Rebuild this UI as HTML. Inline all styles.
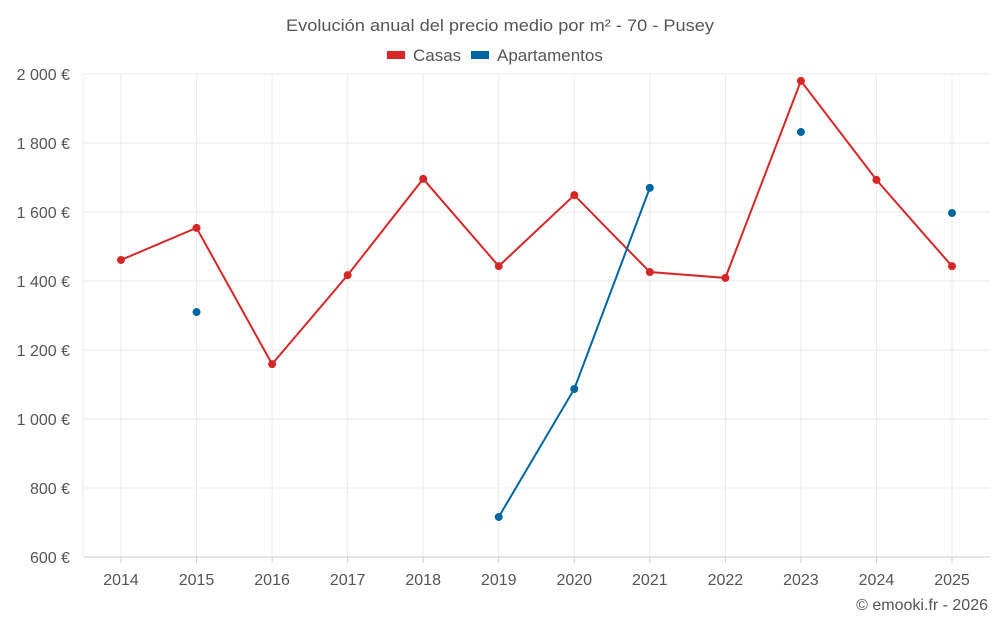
<!DOCTYPE html>
<html><head><meta charset="utf-8"><style>
body{margin:0;background:#fff;font-family:"Liberation Sans",sans-serif}
svg{display:block}
</style></head><body>
<svg id="chart" width="1000" height="625">
<text x="500" y="31" text-anchor="middle" font-size="17" fill="#555" textLength="428" lengthAdjust="spacingAndGlyphs">Evolución anual del precio medio por m² - 70 - Pusey</text>
<g>
<g><rect x="387" y="51" width="18" height="8" fill="#d62728"/><text x="413" y="61" font-size="17" fill="#555">Casas</text></g>
<g><rect x="471" y="51" width="18" height="8" fill="#0066a0"/><text x="497" y="61" font-size="17" fill="#555">Apartamentos</text></g>
</g>
<g id="grid"></g><g id="axes"></g><g id="series"></g>
<text x="988" y="610" text-anchor="end" font-size="16" fill="#555">© emooki.fr - 2026</text>
</svg>
<script>
const years=[2014,2015,2016,2017,2018,2019,2020,2021,2022,2023,2024,2025];
const casas=[1461,1554,1159,1417,1696,1443,1649,1426,1409,1980,1693,1443];
const apartamentos=[null,1310,null,null,null,716,1087,1670,null,1832,null,1597];
const yTicks=[600,800,1000,1200,1400,1600,1800,2000];
const yTickLabels=["600 €","800 €","1 000 €","1 200 €","1 400 €","1 600 €","1 800 €","2 000 €"];
const NS="http://www.w3.org/2000/svg";
const L=83,R=990,T=74,B=557;
const x=i=>121+i*(952-121)/11;
const y=v=>B-(v-600)/(2000-600)*(B-T);
function mk(tag,attrs,parent){const e=document.createElementNS(NS,tag);for(const k in attrs)e.setAttribute(k,attrs[k]);parent.appendChild(e);return e;}
const grid=document.getElementById('grid'),axes=document.getElementById('axes'),series=document.getElementById('series');
yTicks.forEach((t,i)=>{
 const ln=mk('line',{x1:L,x2:R,y1:y(t),y2:y(t),stroke:i==0?'#ccc':'#ebebeb'},grid);
 
 
 const tx=mk('text',{x:70,y:y(t)+6,'text-anchor':'end','font-size':16,fill:'#555'},axes);
 tx.textContent=yTickLabels[i];
 
 
});
mk('line',{x1:L,x2:L,y1:T,y2:B,stroke:'#ebebeb'},grid);
years.forEach((yr,i)=>{
 const ln=mk('line',{x1:x(i),x2:x(i),y1:T,y2:B,stroke:'#ebebeb'},grid);
 
 
 const tk=mk('line',{x1:x(i),x2:x(i),y1:B,y2:B+6,stroke:'#ccc'},axes);
 
 
 const tx=mk('text',{x:x(i),y:585,'text-anchor':'middle','font-size':16,fill:'#555'},axes);
 tx.textContent=yr;
 
 
});
function drawSeries(vals,color,name){
 let d='',pen=false;
 vals.forEach((v,i)=>{if(v==null){pen=false;return;}d+=(pen?'L':'M')+x(i)+' '+y(v)+' ';pen=true;});
 const p=mk('path',{d:d,fill:'none',stroke:color,'stroke-width':2},series);
 
 
 vals.forEach((v,i)=>{if(v==null)return;
  const c=mk('circle',{cx:x(i),cy:y(v),r:4,fill:color},series);
  
  
 });
}
drawSeries(casas,'#d62728','casas');
drawSeries(apartamentos,'#0066a0','apartamentos');
</script>
</body></html>
